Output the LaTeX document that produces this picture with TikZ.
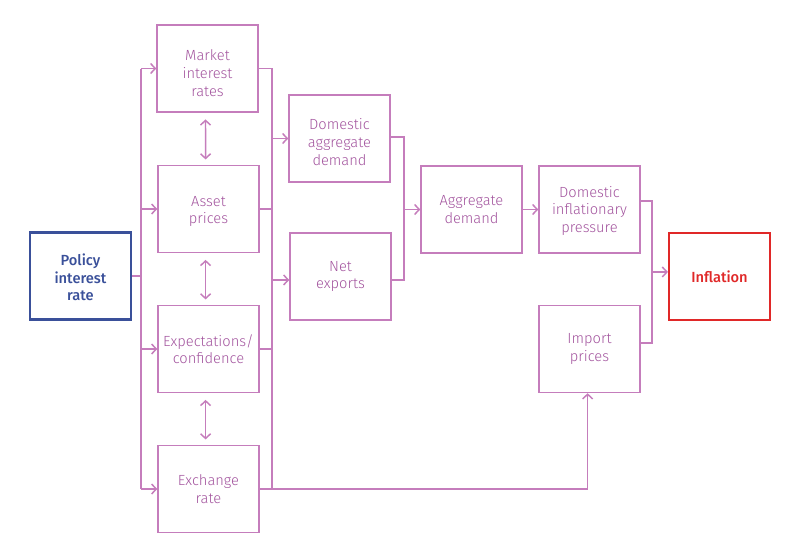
\documentclass[tikz,border=0pt]{standalone}
\usepackage{fontspec}
\setmainfont{Fira Sans}[UprightFont=* Light, BoldFont=* Medium]
\usetikzlibrary{arrows.meta}
\definecolor{ln}{RGB}{197,125,188}
\definecolor{tx}{RGB}{163,84,158}
\definecolor{bl}{RGB}{58,80,154}
\definecolor{rd}{RGB}{224,40,40}
\begin{document}
\begin{tikzpicture}[x=0.75pt,y=-0.75pt,
  box/.style={draw=ln, line width=1.1pt, minimum width=75.75pt, minimum height=65.25pt,
    inner sep=0pt, text width=72pt, align=center, text=tx,
    font=\fontsize{11}{13.2}\selectfont},
  keybox/.style={box, line width=1.6pt, font=\fontsize{11}{13.2}\selectfont\bfseries},
  wire/.style={draw=ln, line width=1.1pt},
  conn/.style={wire, -{Straight Barb[length=3.5pt,width=7.5pt,line width=1.1pt]}},
  both/.style={wire, {Straight Barb[length=3.5pt,width=7.5pt,line width=1.1pt]}-{Straight Barb[length=3.5pt,width=7.5pt,line width=1.1pt]}}]
\useasboundingbox[fill=white] (0,0) rectangle (811,550);

\node[keybox, draw=bl, text=bl] (policy) at (80.5,276) {\rule{0pt}{11pt}Policy\\interest\\rate};
\node[box] (market) at (207.5,68.5) {\rule{0pt}{15pt}Market\\interest\\rates};
\node[box] (asset) at (208.5,209) {\rule{0pt}{11pt}Asset\\prices};
\node[box] (expect) at (208.5,349) {Expectations/\\confidence};
\node[box] (exch) at (208.5,489) {Exchange\\rate};
\node[box] (dad) at (339.5,138.5) {\rule{0pt}{13.5pt}Domestic\\aggregate\\demand};
\node[box] (net) at (340.5,276.5) {Net\\exports};
\node[box] (ad) at (471.5,209.5) {Aggregate\\demand};
\node[box] (dip) at (589.5,209.5) {\rule{0pt}{10pt}Domestic\\inflationary\\pressure};
\node[box] (import) at (589.5,349) {Import\\prices};
\node[keybox, draw=rd, text=rd] (infl) at (719.5,276.5) {Inflation};

\coordinate (lb) at (141,0);
\coordinate (rb) at (272,0);
\coordinate (mb) at (404,0);
\coordinate (ib) at (652,0);

% left bus
\draw[wire] (policy.east) -- (policy.east -| lb);
\draw[wire] (market.west -| lb) -- (exch.west -| lb);
\draw[conn] (market.west -| lb) -- (market.west);
\draw[conn] (asset.west -| lb) -- (asset.west);
\draw[conn] (expect.west -| lb) -- (expect.west);
\draw[conn] (exch.west -| lb) -- (exch.west);

% two-way links
\draw[both] ([xshift=-1.5pt,yshift=-5pt]market.south) -- ([xshift=-2.2pt,yshift=4pt]asset.north);
\draw[both] ([xshift=-2.2pt,yshift=-5pt]asset.south) -- ([xshift=-2.2pt,yshift=4pt]expect.north);
\draw[both] ([xshift=-2.2pt,yshift=-5pt]expect.south) -- ([xshift=-2.2pt,yshift=4pt]exch.north);

% right bus
\draw[wire] (market.east) -- (market.east -| rb) -- (exch.east -| rb);
\draw[wire] (asset.east) -- (asset.east -| rb);
\draw[wire] (expect.east) -- (expect.east -| rb);
\draw[conn] (dad.west -| rb) -- (dad.west);
\draw[conn] ([yshift=-2.6pt]net.west -| rb) -- ([yshift=-2.6pt]net.west);
\draw[conn] (exch.east) -| ([xshift=-1.4pt]import.south);

% demand merge
\draw[wire] ([yshift=1pt]dad.east) -- ([yshift=1pt]dad.east -| mb) -- ([yshift=-2.6pt]net.east -| mb) -- ([yshift=-2.6pt]net.east);
\draw[conn] (ad.west -| mb) -- (ad.west);
\draw[conn] (ad.east) -- (dip.west);

% inflation merge
\draw[wire] ([yshift=6.4pt]dip.east) -- ([yshift=6.4pt]dip.east -| ib) -- ([yshift=4.5pt]import.east -| ib) -- ([yshift=4.5pt]import.east);
\draw[conn] ([yshift=3.4pt]infl.west -| ib) -- ([yshift=3.4pt]infl.west);
\end{tikzpicture}
\end{document}
